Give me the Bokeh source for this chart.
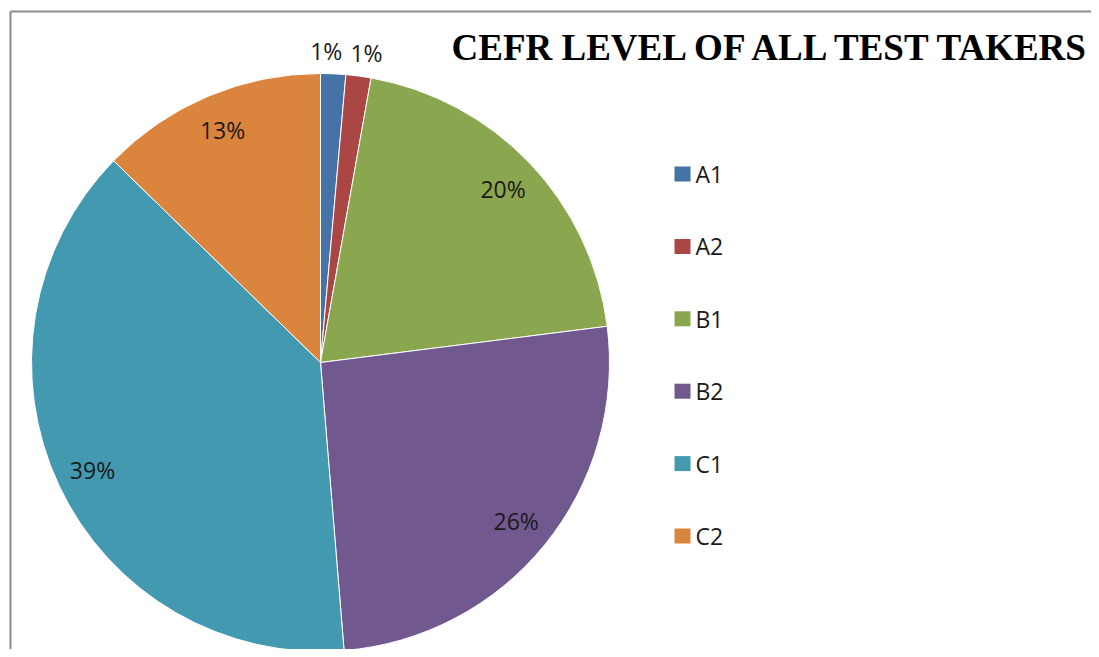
import math
from bokeh.plotting import figure
from bokeh.models import Range1d, ColumnDataSource
from bokeh.core.properties import value
from bokeh.embed import file_html
from bokeh.resources import INLINE

# ---- data ----
categories = ["A1", "A2", "B1", "B2", "C1", "C2"]
percents = [1.4, 1.4, 20.2, 25.7, 38.6, 12.7]
colors = ["#4573A7", "#AA4644", "#8AA64E", "#71588F", "#4299B0", "#DB843D"]
title_text = "CEFR LEVEL OF ALL TEST TAKERS"

W, H = 1091, 649
p = figure(width=W, height=H, output_backend="svg", toolbar_location=None,
           x_range=Range1d(0, W), y_range=Range1d(0, H), min_border=0)
p.axis.visible = False
p.grid.visible = False
p.outline_line_color = None
p.background_fill_color = "white"

# layout (pixel-like coordinates)
cx, cy, R = 320, 287, 289
label_r = 252
outside_r = 312
small_nudge = [-8, 5]

total = sum(percents)
starts, ends, lx, ly, labels = [], [], [], [], []
cum = 0.0
k = 0
for i, v in enumerate(percents):
    a0 = math.pi / 2 - 2 * math.pi * cum / total
    cum += v
    a1 = math.pi / 2 - 2 * math.pi * cum / total
    starts.append(a0)
    ends.append(a1)
    mid = (a0 + a1) / 2
    if v < 5:
        x = cx + outside_r * math.cos(mid) + small_nudge[k % 2]
        y = cy + outside_r * math.sin(mid)
        k += 1
    else:
        x = cx + label_r * math.cos(mid)
        y = cy + label_r * math.sin(mid)
    lx.append(x)
    ly.append(y)
    labels.append(f"{round(v)}%")

src = ColumnDataSource(dict(start=starts, end=ends, color=colors, cat=categories))
p.wedge(x=cx, y=cy, radius=R, start_angle="start", end_angle="end",
        direction="clock", fill_color="color", line_color="white",
        line_width=1, source=src)

lsrc = ColumnDataSource(dict(x=lx, y=ly, t=labels))
p.text(x="x", y="y", text="t", source=lsrc, text_align="center",
       text_baseline="middle", text_font=value("Open Sans"),
       text_font_size="23px", text_color="#1a1a1a")

# legend
leg_x = 674
leg_y0 = 649 - 173.5
leg_dy = 72.4
ys = [leg_y0 - i * leg_dy for i in range(len(categories))]
p.rect(x=[leg_x + 8] * len(categories), y=ys, width=16, height=15,
       fill_color=colors, line_color=None)
p.text(x=[leg_x + 21] * len(categories), y=ys, text=categories,
       text_align="left", text_baseline="middle",
       text_font=value("Open Sans"), text_font_size="23px",
       text_color="#1a1a1a")

# title
p.text(x=[451], y=[649 - 47], text=[title_text], text_align="left",
       text_baseline="middle", text_font=value("Liberation Serif"),
       text_font_style="bold", text_font_size="37px", text_color="black")

# chart frame (left and top border, cropped)
p.line(x=[10, 10], y=[0, 638], line_color="#8c8c8c", line_width=2)
p.line(x=[10, W], y=[638, 638], line_color="#8c8c8c", line_width=2)

open("out.html", "w").write(file_html(p, INLINE))
